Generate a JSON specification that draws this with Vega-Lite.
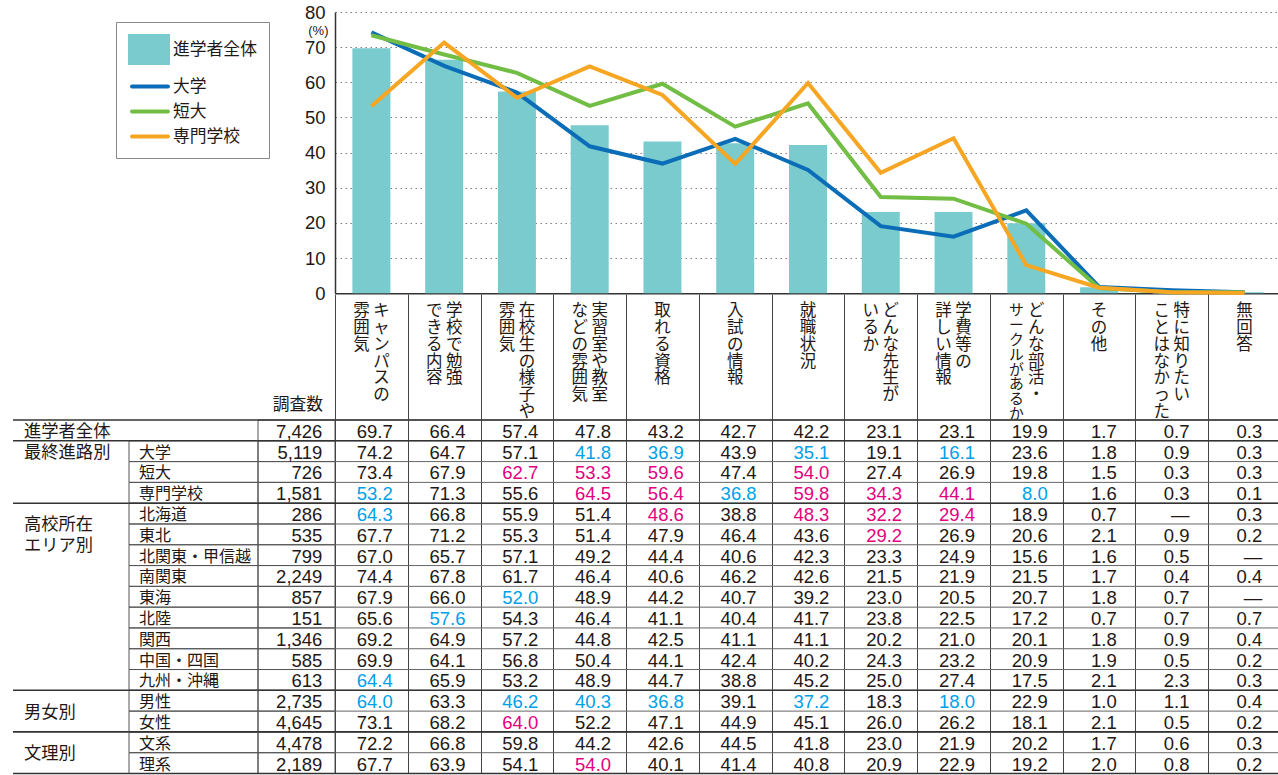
{
  "$schema": "https://vega.github.io/schema/vega-lite/v6.json",
  "background": "white",
  "padding": {"left": 12, "top": 3, "right": 0, "bottom": 0},
  "autosize": {"type": "pad"},
  "spacing": 0,
  "bounds": "flush",
  "columns": 4,
  "config": {
    "view": {"stroke": null},
    "font": "Noto Sans CJK JP",
    "text": {"color": "#231815"}
  },
  "datasets": {
    "rows": [
      {"g":"進学者全体","r":"進学者全体","n":7426,"キャンパスの雰囲気":69.7,"学校で勉強できる内容":66.4,"在校生の様子や雰囲気":57.4,"実習室や教室などの雰囲気":47.8,"取れる資格":43.2,"入試の情報":42.7,"就職状況":42.2,"どんな先生がいるか":23.1,"学費等の詳しい情報":23.1,"どんな部活・サークルがあるか":19.9,"その他":1.7,"特に知りたいことはなかった":0.7,"無回答":0.3,"hi":[],"lo":[]},
      {"g":"最終進路別","r":"大学","n":5119,"キャンパスの雰囲気":74.2,"学校で勉強できる内容":64.7,"在校生の様子や雰囲気":57.1,"実習室や教室などの雰囲気":41.8,"取れる資格":36.9,"入試の情報":43.9,"就職状況":35.1,"どんな先生がいるか":19.1,"学費等の詳しい情報":16.1,"どんな部活・サークルがあるか":23.6,"その他":1.8,"特に知りたいことはなかった":0.9,"無回答":0.3,"hi":[],"lo":["実習室や教室などの雰囲気","取れる資格","就職状況","学費等の詳しい情報"]},
      {"g":"最終進路別","r":"短大","n":726,"キャンパスの雰囲気":73.4,"学校で勉強できる内容":67.9,"在校生の様子や雰囲気":62.7,"実習室や教室などの雰囲気":53.3,"取れる資格":59.6,"入試の情報":47.4,"就職状況":54.0,"どんな先生がいるか":27.4,"学費等の詳しい情報":26.9,"どんな部活・サークルがあるか":19.8,"その他":1.5,"特に知りたいことはなかった":0.3,"無回答":0.3,"hi":["在校生の様子や雰囲気","実習室や教室などの雰囲気","取れる資格","就職状況"],"lo":[]},
      {"g":"最終進路別","r":"専門学校","n":1581,"キャンパスの雰囲気":53.2,"学校で勉強できる内容":71.3,"在校生の様子や雰囲気":55.6,"実習室や教室などの雰囲気":64.5,"取れる資格":56.4,"入試の情報":36.8,"就職状況":59.8,"どんな先生がいるか":34.3,"学費等の詳しい情報":44.1,"どんな部活・サークルがあるか":8.0,"その他":1.6,"特に知りたいことはなかった":0.3,"無回答":0.1,"hi":["実習室や教室などの雰囲気","取れる資格","就職状況","どんな先生がいるか","学費等の詳しい情報"],"lo":["キャンパスの雰囲気","入試の情報","どんな部活・サークルがあるか"]},
      {"g":"高校所在エリア別","r":"北海道","n":286,"キャンパスの雰囲気":64.3,"学校で勉強できる内容":66.8,"在校生の様子や雰囲気":55.9,"実習室や教室などの雰囲気":51.4,"取れる資格":48.6,"入試の情報":38.8,"就職状況":48.3,"どんな先生がいるか":32.2,"学費等の詳しい情報":29.4,"どんな部活・サークルがあるか":18.9,"その他":0.7,"特に知りたいことはなかった":null,"無回答":0.3,"hi":["取れる資格","就職状況","どんな先生がいるか","学費等の詳しい情報"],"lo":["キャンパスの雰囲気"]},
      {"g":"高校所在エリア別","r":"東北","n":535,"キャンパスの雰囲気":67.7,"学校で勉強できる内容":71.2,"在校生の様子や雰囲気":55.3,"実習室や教室などの雰囲気":51.4,"取れる資格":47.9,"入試の情報":46.4,"就職状況":43.6,"どんな先生がいるか":29.2,"学費等の詳しい情報":26.9,"どんな部活・サークルがあるか":20.6,"その他":2.1,"特に知りたいことはなかった":0.9,"無回答":0.2,"hi":["どんな先生がいるか"],"lo":[]},
      {"g":"高校所在エリア別","r":"北関東・甲信越","n":799,"キャンパスの雰囲気":67.0,"学校で勉強できる内容":65.7,"在校生の様子や雰囲気":57.1,"実習室や教室などの雰囲気":49.2,"取れる資格":44.4,"入試の情報":40.6,"就職状況":42.3,"どんな先生がいるか":23.3,"学費等の詳しい情報":24.9,"どんな部活・サークルがあるか":15.6,"その他":1.6,"特に知りたいことはなかった":0.5,"無回答":null,"hi":[],"lo":[]},
      {"g":"高校所在エリア別","r":"南関東","n":2249,"キャンパスの雰囲気":74.4,"学校で勉強できる内容":67.8,"在校生の様子や雰囲気":61.7,"実習室や教室などの雰囲気":46.4,"取れる資格":40.6,"入試の情報":46.2,"就職状況":42.6,"どんな先生がいるか":21.5,"学費等の詳しい情報":21.9,"どんな部活・サークルがあるか":21.5,"その他":1.7,"特に知りたいことはなかった":0.4,"無回答":0.4,"hi":[],"lo":[]},
      {"g":"高校所在エリア別","r":"東海","n":857,"キャンパスの雰囲気":67.9,"学校で勉強できる内容":66.0,"在校生の様子や雰囲気":52.0,"実習室や教室などの雰囲気":48.9,"取れる資格":44.2,"入試の情報":40.7,"就職状況":39.2,"どんな先生がいるか":23.0,"学費等の詳しい情報":20.5,"どんな部活・サークルがあるか":20.7,"その他":1.8,"特に知りたいことはなかった":0.7,"無回答":null,"hi":[],"lo":["在校生の様子や雰囲気"]},
      {"g":"高校所在エリア別","r":"北陸","n":151,"キャンパスの雰囲気":65.6,"学校で勉強できる内容":57.6,"在校生の様子や雰囲気":54.3,"実習室や教室などの雰囲気":46.4,"取れる資格":41.1,"入試の情報":40.4,"就職状況":41.7,"どんな先生がいるか":23.8,"学費等の詳しい情報":22.5,"どんな部活・サークルがあるか":17.2,"その他":0.7,"特に知りたいことはなかった":0.7,"無回答":0.7,"hi":[],"lo":["学校で勉強できる内容"]},
      {"g":"高校所在エリア別","r":"関西","n":1346,"キャンパスの雰囲気":69.2,"学校で勉強できる内容":64.9,"在校生の様子や雰囲気":57.2,"実習室や教室などの雰囲気":44.8,"取れる資格":42.5,"入試の情報":41.1,"就職状況":41.1,"どんな先生がいるか":20.2,"学費等の詳しい情報":21.0,"どんな部活・サークルがあるか":20.1,"その他":1.8,"特に知りたいことはなかった":0.9,"無回答":0.4,"hi":[],"lo":[]},
      {"g":"高校所在エリア別","r":"中国・四国","n":585,"キャンパスの雰囲気":69.9,"学校で勉強できる内容":64.1,"在校生の様子や雰囲気":56.8,"実習室や教室などの雰囲気":50.4,"取れる資格":44.1,"入試の情報":42.4,"就職状況":40.2,"どんな先生がいるか":24.3,"学費等の詳しい情報":23.2,"どんな部活・サークルがあるか":20.9,"その他":1.9,"特に知りたいことはなかった":0.5,"無回答":0.2,"hi":[],"lo":[]},
      {"g":"高校所在エリア別","r":"九州・沖縄","n":613,"キャンパスの雰囲気":64.4,"学校で勉強できる内容":65.9,"在校生の様子や雰囲気":53.2,"実習室や教室などの雰囲気":48.9,"取れる資格":44.7,"入試の情報":38.8,"就職状況":45.2,"どんな先生がいるか":25.0,"学費等の詳しい情報":27.4,"どんな部活・サークルがあるか":17.5,"その他":2.1,"特に知りたいことはなかった":2.3,"無回答":0.3,"hi":[],"lo":["キャンパスの雰囲気"]},
      {"g":"男女別","r":"男性","n":2735,"キャンパスの雰囲気":64.0,"学校で勉強できる内容":63.3,"在校生の様子や雰囲気":46.2,"実習室や教室などの雰囲気":40.3,"取れる資格":36.8,"入試の情報":39.1,"就職状況":37.2,"どんな先生がいるか":18.3,"学費等の詳しい情報":18.0,"どんな部活・サークルがあるか":22.9,"その他":1.0,"特に知りたいことはなかった":1.1,"無回答":0.4,"hi":[],"lo":["キャンパスの雰囲気","在校生の様子や雰囲気","実習室や教室などの雰囲気","取れる資格","就職状況","学費等の詳しい情報"]},
      {"g":"男女別","r":"女性","n":4645,"キャンパスの雰囲気":73.1,"学校で勉強できる内容":68.2,"在校生の様子や雰囲気":64.0,"実習室や教室などの雰囲気":52.2,"取れる資格":47.1,"入試の情報":44.9,"就職状況":45.1,"どんな先生がいるか":26.0,"学費等の詳しい情報":26.2,"どんな部活・サークルがあるか":18.1,"その他":2.1,"特に知りたいことはなかった":0.5,"無回答":0.2,"hi":["在校生の様子や雰囲気"],"lo":[]},
      {"g":"文理別","r":"文系","n":4478,"キャンパスの雰囲気":72.2,"学校で勉強できる内容":66.8,"在校生の様子や雰囲気":59.8,"実習室や教室などの雰囲気":44.2,"取れる資格":42.6,"入試の情報":44.5,"就職状況":41.8,"どんな先生がいるか":23.0,"学費等の詳しい情報":21.9,"どんな部活・サークルがあるか":20.2,"その他":1.7,"特に知りたいことはなかった":0.6,"無回答":0.3,"hi":[],"lo":[]},
      {"g":"文理別","r":"理系","n":2189,"キャンパスの雰囲気":67.7,"学校で勉強できる内容":63.9,"在校生の様子や雰囲気":54.1,"実習室や教室などの雰囲気":54.0,"取れる資格":40.1,"入試の情報":41.4,"就職状況":40.8,"どんな先生がいるか":20.9,"学費等の詳しい情報":22.9,"どんな部活・サークルがあるか":19.2,"その他":2.0,"特に知りたいことはなかった":0.8,"無回答":0.2,"hi":["実習室や教室などの雰囲気"],"lo":[]}
    ],
    "groups": [
      {"g":"進学者全体","r":"進学者全体","t":"進学者全体"},
      {"g":"最終進路別","r":"大学","t":"最終進路別"},
      {"g":"高校所在エリア別","r":"北海道","t":["高校所在","エリア別"]},
      {"g":"男女別","r":"男性","t":"男女別"},
      {"g":"文理別","r":"文系","t":"文理別"}
    ],
    "labels": [
      {"c":"キャンパスの雰囲気","s":"R","t":["キ","ャ","ン","パ","ス","の"]},
      {"c":"キャンパスの雰囲気","s":"L","t":["雰","囲","気"]},
      {"c":"学校で勉強できる内容","s":"R","t":["学","校","で","勉","強"]},
      {"c":"学校で勉強できる内容","s":"L","t":["で","き","る","内","容"]},
      {"c":"在校生の様子や雰囲気","s":"R","t":["在","校","生","の","様","子","や"]},
      {"c":"在校生の様子や雰囲気","s":"L","t":["雰","囲","気"]},
      {"c":"実習室や教室などの雰囲気","s":"R","t":["実","習","室","や","教","室"]},
      {"c":"実習室や教室などの雰囲気","s":"L","t":["な","ど","の","雰","囲","気"]},
      {"c":"取れる資格","s":"C","t":["取","れ","る","資","格"]},
      {"c":"入試の情報","s":"C","t":["入","試","の","情","報"]},
      {"c":"就職状況","s":"C","t":["就","職","状","況"]},
      {"c":"どんな先生がいるか","s":"R","t":["ど","ん","な","先","生","が"]},
      {"c":"どんな先生がいるか","s":"L","t":["い","る","か"]},
      {"c":"学費等の詳しい情報","s":"R","t":["学","費","等","の"]},
      {"c":"学費等の詳しい情報","s":"L","t":["詳","し","い","情","報"]},
      {"c":"どんな部活・サークルがあるか","s":"R","t":["ど","ん","な","部","活","・"]},
      {"c":"どんな部活・サークルがあるか","s":"L","t":["サ","ー","ク","ル","が","あ","る","か"]},
      {"c":"その他","s":"C","t":["そ","の","他"]},
      {"c":"特に知りたいことはなかった","s":"R","t":["特","に","知","り","た","い"]},
      {"c":"特に知りたいことはなかった","s":"L","t":["こ","と","は","な","か","っ","た"]},
      {"c":"無回答","s":"C","t":["無","回","答"]}
    ],
    "header": [{"h": "調査数"}]
  },
  "concat": [
    {"width": 116, "height": 281.3, "data": {"name": "header"}, "transform": [{"filter": "false"}], "mark": "text", "encoding": {}},
    {"width": 129, "height": 281.3, "data": {"name": "header"}, "transform": [{"filter": "false"}], "mark": "text", "encoding": {}},
    {"width": 77, "height": 281.3, "data": {"name": "header"}, "transform": [{"filter": "false"}], "mark": "text", "encoding": {}},
    {
      "width": 946, "height": 281.3,
      "data": {"name": "rows"},
      "transform": [
        {"filter": {"field": "r", "oneOf": ["進学者全体","大学","短大","専門学校"]}},
        {"fold": ["キャンパスの雰囲気","学校で勉強できる内容","在校生の様子や雰囲気","実習室や教室などの雰囲気","取れる資格","入試の情報","就職状況","どんな先生がいるか","学費等の詳しい情報","どんな部活・サークルがあるか","その他","特に知りたいことはなかった","無回答"], "as": ["key","value"]}
      ],
      "encoding": {
        "x": {"field": "key", "type": "nominal",
          "scale": {"domain": ["キャンパスの雰囲気","学校で勉強できる内容","在校生の様子や雰囲気","実習室や教室などの雰囲気","取れる資格","入試の情報","就職状況","どんな先生がいるか","学費等の詳しい情報","どんな部活・サークルがあるか","その他","特に知りたいことはなかった","無回答"], "paddingInner": 0.478, "paddingOuter": 0.239},
          "axis": {"orient": "bottom", "labels": false, "ticks": false, "domain": true, "domainColor": "#333333", "domainWidth": 1.5, "title": null, "grid": false}},
        "y": {"field": "value", "type": "quantitative", "stack": null,
          "scale": {"domain": [0, 80], "nice": false},
          "axis": {"values": [0,10,20,30,40,50,60,70,80], "grid": true, "gridColor": "#7f7f7f", "gridDash": [1.5, 3.5], "gridWidth": 1.2, "ticks": false, "domain": true, "domainColor": "#333333", "domainWidth": 1.5, "labelFont": "Liberation Sans", "labelFontSize": 18.5, "labelColor": "#231815", "labelPadding": 10, "labelFlush": false, "title": "(%)", "titleAngle": 0, "titleX": -7, "titleY": 18, "titleAlign": "right", "titleBaseline": "middle", "titleFont": "Liberation Sans", "titleFontSize": 13, "titleFontWeight": "normal", "titleColor": "#231815"}},
        "color": {"field": "r", "type": "nominal",
          "scale": {"domain": ["進学者全体","大学","短大","専門学校"], "range": ["#79cbcd","#0b6db7","#72bd44","#f6a623"]},
          "legend": {"orient": "none", "legendX": 103, "legendY": 10, "title": null, "padding": 12, "strokeColor": "#888888", "labelFont": "Noto Sans CJK JP", "labelFontSize": 16.8, "labelColor": "#231815", "labelOffset": 14, "rowPadding": 0, "symbolSize": 729,
            "encode": {"symbols": {"update": {
              "shape": {"signal": "datum.value === '進学者全体' ? 'M-1,-1H1.815V1H-1Z' : 'M-0.85,0H1.81'"},
              "fill": {"signal": "datum.value === '進学者全体' ? scale('color', datum.value) : 'transparent'"},
              "stroke": {"signal": "datum.value === '進学者全体' ? 'transparent' : scale('color', datum.value)"},
              "strokeWidth": {"value": 4},
              "strokeCap": {"value": "round"},
              "opacity": {"value": 1}
            }}}}}
      },
      "layer": [
        {"transform": [{"filter": "datum.r === '進学者全体'"}], "mark": {"type": "bar"}},
        {"transform": [{"filter": "datum.r !== '進学者全体'"}], "mark": {"type": "line", "strokeWidth": 4, "strokeJoin": "miter"}, "encoding": {"order": {"value": null}}}
      ]
    },
    {"width": 116, "height": 125.7, "data": {"name": "header"}, "transform": [{"filter": "false"}], "mark": "text", "encoding": {}},
    {"width": 129, "height": 125.7, "data": {"name": "header"}, "transform": [{"filter": "false"}], "mark": "text", "encoding": {}},
    {
      "width": 77, "height": 125.7,
      "data": {"name": "header"},
      "mark": {"type": "text", "align": "right", "baseline": "alphabetic", "dx": -12, "dy": -9.5, "font": "Noto Sans CJK JP", "fontSize": 16.8},
      "encoding": {"x": {"value": "width"}, "y": {"value": "height"}, "text": {"field": "h"}}
    },
    {
      "width": 946, "height": 125.7,
      "data": {"name": "labels"},
      "encoding": {
        "x": {"field": "c", "type": "nominal",
          "scale": {"domain": ["キャンパスの雰囲気","学校で勉強できる内容","在校生の様子や雰囲気","実習室や教室などの雰囲気","取れる資格","入試の情報","就職状況","どんな先生がいるか","学費等の詳しい情報","どんな部活・サークルがあるか","その他","特に知りたいことはなかった","無回答"], "paddingInner": 0, "paddingOuter": 0},
          "axis": {"orient": "top", "labels": false, "ticks": false, "domain": false, "title": null, "grid": true, "tickBand": "extent", "gridColor": "#444444", "gridWidth": 1}},
        "text": {"field": "t"}
      },
      "layer": [
        {"transform": [{"filter": "datum.s === 'R'"}], "mark": {"type": "text", "align": "center", "baseline": "top", "dx": 10, "dy": -53.4, "font": "Noto Sans CJK JP", "fontSize": 16.5, "lineHeight": 16.7}},
        {"transform": [{"filter": "datum.s === 'L' && datum.c !== 'どんな部活・サークルがあるか'"}], "mark": {"type": "text", "align": "center", "baseline": "top", "dx": -10, "dy": -53.4, "font": "Noto Sans CJK JP", "fontSize": 16.5, "lineHeight": 16.7}},
        {"transform": [{"filter": "datum.s === 'L' && datum.c === 'どんな部活・サークルがあるか'"}], "mark": {"type": "text", "align": "center", "baseline": "top", "dx": -10, "dy": -53.4, "font": "Noto Sans CJK JP", "fontSize": 14.8, "lineHeight": 14.8}},
        {"transform": [{"filter": "datum.s === 'C'"}], "mark": {"type": "text", "align": "center", "baseline": "top", "dx": 0, "dy": -53.4, "font": "Noto Sans CJK JP", "fontSize": 16.5, "lineHeight": 16.7}}
      ]
    },
    {
      "width": 116, "height": 353.5,
      "encoding": {
        "y": {"field": "r", "type": "nominal", "scale": {"domain": ["進学者全体","大学","短大","専門学校","北海道","東北","北関東・甲信越","南関東","東海","北陸","関西","中国・四国","九州・沖縄","男性","女性","文系","理系"], "paddingInner": 0, "paddingOuter": 0}, "axis": null}
      },
      "layer": [
        {"data": {"name": "groups"}, "mark": {"type": "rule", "color": "#333333", "strokeWidth": 1.6}, "encoding": {"y": {"field": "r", "type": "nominal", "bandPosition": 0}}},
        {"data": {"name": "rows"}, "transform": [{"filter": "datum.r === '理系'"}], "mark": {"type": "rule", "color": "#333333", "strokeWidth": 1.6}, "encoding": {"y": {"field": "r", "type": "nominal", "bandPosition": 1}}},
        {"data": {"name": "groups"}, "transform": [{"filter": "datum.g === '進学者全体' || datum.g === '最終進路別'"}], "mark": {"type": "text", "align": "left", "baseline": "middle", "dx": -47, "dy": 1.5, "font": "Noto Sans CJK JP", "fontSize": 17.3, "lineHeight": 20.8}, "encoding": {"y": {"field": "r", "type": "nominal", "bandPosition": 0.5}, "text": {"field": "t"}}},
        {"data": {"name": "groups"}, "transform": [{"filter": "datum.g !== '進学者全体' && datum.g !== '最終進路別'"}], "mark": {"type": "text", "align": "left", "baseline": "middle", "dx": -47, "dy": 1.5, "font": "Noto Sans CJK JP", "fontSize": 17.3, "lineHeight": 20.8}, "encoding": {"y": {"field": "r", "type": "nominal", "bandPosition": 1}, "text": {"field": "t"}}}
      ]
    },
    {
      "width": 129, "height": 353.5,
      "data": {"name": "rows"},
      "encoding": {
        "y": {"field": "r", "type": "nominal", "scale": {"domain": ["進学者全体","大学","短大","専門学校","北海道","東北","北関東・甲信越","南関東","東海","北陸","関西","中国・四国","九州・沖縄","男性","女性","文系","理系"], "paddingInner": 0, "paddingOuter": 0}, "axis": null}
      },
      "layer": [
        {"transform": [{"filter": "datum.r !== '進学者全体'"}], "mark": {"type": "rect", "filled": false, "stroke": "#555555", "strokeWidth": 1}},
        {"data": {"name": "groups"}, "mark": {"type": "rule", "color": "#333333", "strokeWidth": 1.6}, "encoding": {"y": {"field": "r", "type": "nominal", "bandPosition": 0}}},
        {"transform": [{"filter": "datum.r === '理系'"}], "mark": {"type": "rule", "color": "#333333", "strokeWidth": 1.6}, "encoding": {"y": {"field": "r", "type": "nominal", "bandPosition": 1}}},
        {"transform": [{"filter": "datum.r !== '進学者全体'"}], "mark": {"type": "text", "align": "left", "baseline": "middle", "dx": -54.5, "dy": 1.5, "font": "Noto Sans CJK JP", "fontSize": 16}, "encoding": {"text": {"field": "r"}}}
      ]
    },
    {
      "width": 77, "height": 353.5,
      "data": {"name": "rows"},
      "encoding": {
        "y": {"field": "r", "type": "nominal", "scale": {"domain": ["進学者全体","大学","短大","専門学校","北海道","東北","北関東・甲信越","南関東","東海","北陸","関西","中国・四国","九州・沖縄","男性","女性","文系","理系"], "paddingInner": 0, "paddingOuter": 0}, "axis": null}
      },
      "layer": [
        {"mark": {"type": "rect", "filled": false, "stroke": "#555555", "strokeWidth": 1}},
        {"data": {"name": "groups"}, "mark": {"type": "rule", "color": "#333333", "strokeWidth": 1.6}, "encoding": {"y": {"field": "r", "type": "nominal", "bandPosition": 0}}},
        {"transform": [{"filter": "datum.r === '理系'"}], "mark": {"type": "rule", "color": "#333333", "strokeWidth": 1.6}, "encoding": {"y": {"field": "r", "type": "nominal", "bandPosition": 1}}},
        {"mark": {"type": "text", "align": "right", "baseline": "middle", "dx": -12.6, "dy": 1.5, "font": "Liberation Sans", "fontSize": 18.5}, "encoding": {"x": {"value": "width"}, "text": {"field": "n", "type": "quantitative", "format": ","}}}
      ]
    },
    {
      "width": 946, "height": 353.5,
      "encoding": {
        "y": {"field": "r", "type": "nominal", "scale": {"domain": ["進学者全体","大学","短大","専門学校","北海道","東北","北関東・甲信越","南関東","東海","北陸","関西","中国・四国","九州・沖縄","男性","女性","文系","理系"], "paddingInner": 0, "paddingOuter": 0}, "axis": null}
      },
      "layer": [
        {"data": {"name": "rows"}, "mark": {"type": "rule", "color": "#666666", "strokeWidth": 1}, "encoding": {"y": {"field": "r", "type": "nominal", "bandPosition": 0}}},
        {"data": {"name": "groups"}, "mark": {"type": "rule", "color": "#333333", "strokeWidth": 1.6}, "encoding": {"y": {"field": "r", "type": "nominal", "bandPosition": 0}}},
        {"data": {"name": "rows"}, "transform": [{"filter": "datum.r === '理系'"}], "mark": {"type": "rule", "color": "#333333", "strokeWidth": 1.6}, "encoding": {"y": {"field": "r", "type": "nominal", "bandPosition": 1}}},
        {
          "data": {"name": "rows"},
          "transform": [
            {"fold": ["キャンパスの雰囲気","学校で勉強できる内容","在校生の様子や雰囲気","実習室や教室などの雰囲気","取れる資格","入試の情報","就職状況","どんな先生がいるか","学費等の詳しい情報","どんな部活・サークルがあるか"], "as": ["key","value"]},
            {"filter": "isValid(datum.value)"}
          ],
          "mark": {"type": "text", "align": "right", "baseline": "middle", "dx": 21.4, "dy": 1.5, "font": "Liberation Sans", "fontSize": 18.5},
          "encoding": {
            "x": {"field": "key", "type": "nominal",
              "scale": {"domain": ["キャンパスの雰囲気","学校で勉強できる内容","在校生の様子や雰囲気","実習室や教室などの雰囲気","取れる資格","入試の情報","就職状況","どんな先生がいるか","学費等の詳しい情報","どんな部活・サークルがあるか","その他","特に知りたいことはなかった","無回答"], "paddingInner": 0, "paddingOuter": 0},
              "axis": {"orient": "top", "labels": false, "ticks": false, "domain": false, "title": null, "grid": true, "tickBand": "extent", "gridColor": "#444444", "gridWidth": 1}},
            "text": {"field": "value", "type": "quantitative", "format": ".1f"},
            "color": {"condition": [{"test": "indexof(datum.hi, datum.key) >= 0", "value": "#e4007f"}, {"test": "indexof(datum.lo, datum.key) >= 0", "value": "#00a0e9"}], "value": "#231815"}
          }
        },
        {
          "data": {"name": "rows"},
          "transform": [
            {"fold": ["その他","特に知りたいことはなかった","無回答"], "as": ["key","value"]},
            {"filter": "isValid(datum.value)"}
          ],
          "mark": {"type": "text", "align": "right", "baseline": "middle", "dx": 17.6, "dy": 1.5, "font": "Liberation Sans", "fontSize": 18.5},
          "encoding": {
            "x": {"field": "key", "type": "nominal"},
            "text": {"field": "value", "type": "quantitative", "format": ".1f"},
            "color": {"condition": [{"test": "indexof(datum.hi, datum.key) >= 0", "value": "#e4007f"}, {"test": "indexof(datum.lo, datum.key) >= 0", "value": "#00a0e9"}], "value": "#231815"}
          }
        },
        {
          "data": {"name": "rows"},
          "transform": [
            {"fold": ["キャンパスの雰囲気","学校で勉強できる内容","在校生の様子や雰囲気","実習室や教室などの雰囲気","取れる資格","入試の情報","就職状況","どんな先生がいるか","学費等の詳しい情報","どんな部活・サークルがあるか","その他","特に知りたいことはなかった","無回答"], "as": ["key","value"]},
            {"filter": "!isValid(datum.value)"}
          ],
          "mark": {"type": "text", "align": "right", "baseline": "middle", "dx": 17.6, "dy": 1.5, "font": "Liberation Sans", "fontSize": 18.5, "color": "#231815"},
          "encoding": {
            "x": {"field": "key", "type": "nominal"},
            "text": {"value": "—"}
          }
        }
      ]
    }
  ]
}
